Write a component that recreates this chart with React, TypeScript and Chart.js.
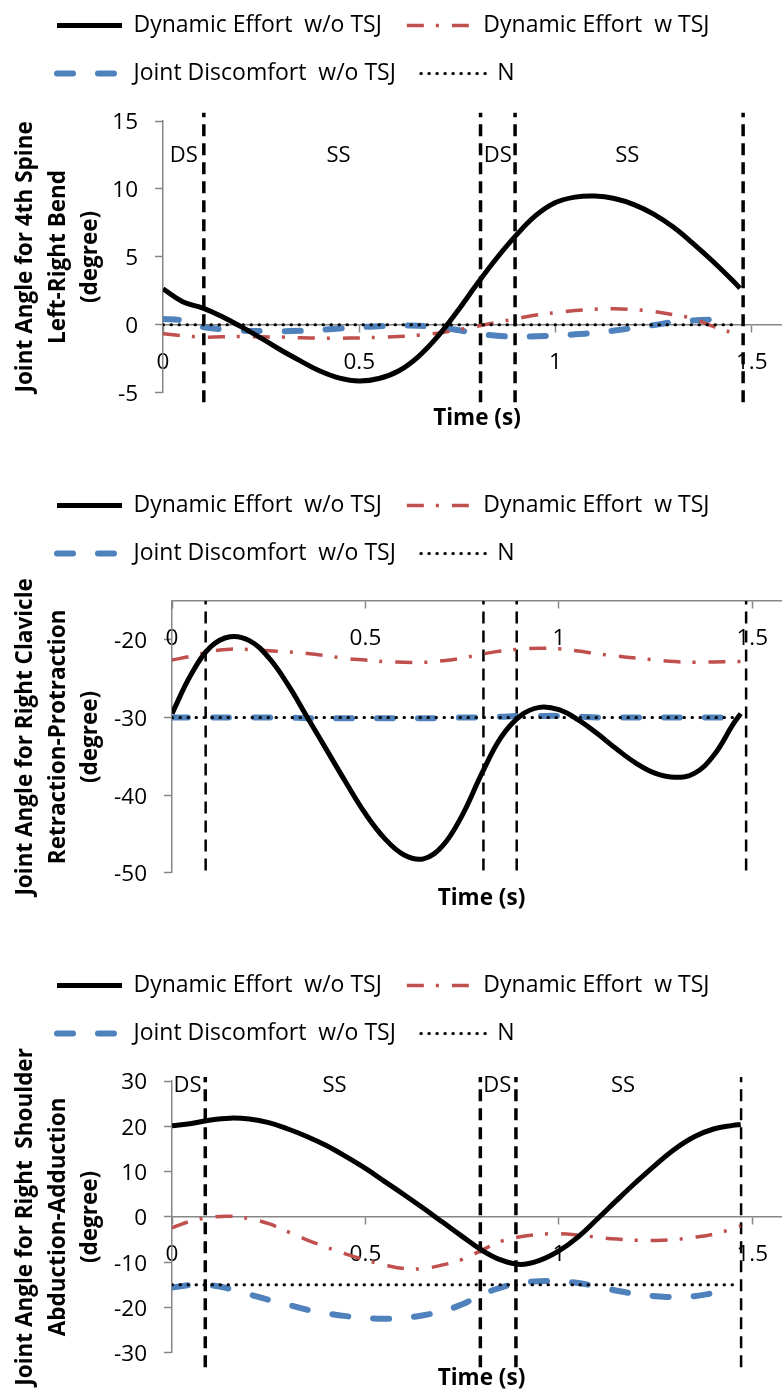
import React, { useEffect, useRef } from 'react';
import { Chart, registerables } from 'chart.js';

Chart.register(...registerables);

const FONT = "'Open Sans'";

// ---------- shared data ----------
const times = [0, 0.05, 0.1, 0.15, 0.2, 0.25, 0.3, 0.35, 0.4, 0.45, 0.5, 0.55, 0.6, 0.65, 0.7, 0.75, 0.8, 0.85, 0.9, 0.95, 1.0, 1.05, 1.1, 1.15, 1.2, 1.25, 1.3, 1.35, 1.4, 1.45, 1.47];
const nTimes = [0, 1.45];
const seriesLabels = ['Dynamic Effort  w/o TSJ', 'Dynamic Effort  w TSJ', 'Joint Discomfort  w/o TSJ', 'N'];
const xTickValues = [0, 0.5, 1, 1.5];
const phaseLabelTexts = ['DS', 'SS', 'DS', 'SS'];

// ---------- chart 1: 4th spine left-right bend ----------
const spineEffortNoTsj = [2.65, 1.7, 1.25, 0.62, -0.15, -0.98, -1.85, -2.65, -3.4, -3.92, -4.13, -3.95, -3.4, -2.35, -0.85, 1.0, 3.0, 4.9, 6.6, 8.05, 9.0, 9.4, 9.48, 9.3, 8.85, 8.15, 7.2, 6.0, 4.7, 3.3, 2.7];
const spineEffortTsj = [-0.66, -0.8, -0.9, -0.88, -0.86, -0.88, -0.9, -0.95, -0.98, -0.98, -0.96, -0.92, -0.86, -0.76, -0.61, -0.38, -0.1, 0.18, 0.45, 0.72, 0.9, 1.05, 1.15, 1.18, 1.12, 0.98, 0.75, 0.45, -0.1, -0.6, -0.9];
const spineDiscomfort = [0.44, 0.32, -0.15, -0.32, -0.42, -0.45, -0.47, -0.44, -0.37, -0.27, -0.17, -0.1, -0.05, -0.07, -0.17, -0.38, -0.64, -0.8, -0.86, -0.84, -0.78, -0.7, -0.59, -0.42, -0.22, -0.02, 0.2, 0.32, 0.39, 0.42, null];
const spineN = [0, 0];
const spineYTicks = [-5, 0, 5, 10, 15];
const spinePhaseTimes = [0.104, 0.809, 0.897, 1.478];
const spinePhaseRange = [-5.7, 15.6];
const spinePhaseLabelX = [0.053, 0.447, 0.853, 1.183];
const spinePhaseLabelY = 12.43;

// ---------- chart 2: right clavicle retraction-protraction ----------
const clavicleEffortNoTsj = [-29.5, -24.4, -20.9, -19.6, -20.1, -22.3, -25.8, -30.0, -34.2, -38.4, -42.4, -45.6, -47.7, -48.2, -46.5, -42.6, -37.3, -32.6, -29.8, -28.7, -29.0, -30.3, -32.1, -34.1, -35.9, -37.2, -37.7, -37.2, -34.9, -30.9, -29.5];
const clavicleEffortTsj = [-22.6, -22.1, -21.5, -21.2, -21.25, -21.4, -21.55, -21.75, -22.05, -22.4, -22.6, -22.8, -22.9, -22.9, -22.7, -22.35, -21.85, -21.45, -21.2, -21.1, -21.15, -21.45, -21.8, -22.1, -22.35, -22.6, -22.8, -22.9, -22.85, -22.8, -22.8];
const clavicleDiscomfort = [-30, -30, -30, -30, -30, -30, -30, -30.1, -30.1, -30.1, -30.1, -30.1, -30.1, -30.1, -30.1, -30, -30, -29.9, -29.8, -29.8, -29.8, -29.9, -30, -30, -30, -30, -30, -30, -30, -30, null];
const clavicleN = [-30, -30];
const clavicleYTicks = [-50, -40, -30, -20];
const claviclePhaseTimes = [0.087, 0.805, 0.891, 1.484];
const claviclePhaseRange = [-49.7, -15];

// ---------- chart 3: right shoulder abduction-adduction ----------
const shoulderEffortNoTsj = [20.1, 20.6, 21.4, 21.8, 21.6, 20.8, 19.4, 17.7, 15.7, 13.3, 10.7, 7.8, 4.9, 1.9, -1.2, -4.3, -7.3, -9.5, -10.5, -9.6, -7.5, -4.4, -0.4, 3.7, 7.7, 11.5, 15.0, 17.7, 19.4, 20.2, 20.4];
const shoulderEffortTsj = [-2.4, -0.9, -0.1, 0.15, -0.4, -1.5, -3.3, -5.1, -6.7, -8.2, -9.5, -10.6, -11.4, -11.4, -10.6, -9.4, -7.4, -5.4, -4.4, -3.85, -3.7, -4.0, -4.5, -4.9, -5.15, -5.2, -5.0, -4.5, -3.8, -2.6, -2.0];
const shoulderDiscomfort = [-15.6, -15.05, -15.1, -15.9, -17.1, -18.3, -19.4, -20.5, -21.3, -21.9, -22.3, -22.5, -22.3, -21.7, -20.8, -19.3, -17.2, -15.6, -14.6, -14.2, -14.2, -14.6, -15.4, -16.3, -17.0, -17.5, -17.7, -17.5, -16.8, -16.0, null];
const shoulderN = [-15, -15];
const shoulderYTicks = [-30, -20, -10, 0, 10, 20, 30];
const shoulderPhaseTimes = [0.086, 0.797, 0.889, 1.471];
const shoulderPhaseRange = [-33.2, 30.9];
const shoulderPhaseLabelX = [0.040, 0.42, 0.841, 1.166];
const shoulderPhaseLabelY = 29.0;

type Spec = {
  top: number;
  yTitle: string[];
  yMin: number;
  yMax: number;
  yTicks: number[];
  xAxisAt: number;
  yWidth: number;
  black: (number | null)[];
  red: (number | null)[];
  blue: (number | null)[];
  n: number[];
  phaseTimes: number[];
  phaseRange: number[];
  phaseWidths: number[];
  labelX?: number[];
  labelY?: number;
};

const PAD_LEFT = 32;

const specs: Spec[] = [
  {
    top: -13,
    yTitle: ['Joint Angle for 4th Spine', 'Left-Right Bend', '(degree)'],
    yMin: -5, yMax: 15, yTicks: spineYTicks, xAxisAt: 0, yWidth: 163 - PAD_LEFT,
    black: spineEffortNoTsj, red: spineEffortTsj, blue: spineDiscomfort, n: spineN,
    phaseTimes: spinePhaseTimes, phaseRange: spinePhaseRange, phaseWidths: [3.5, 3.5, 3.5, 3.5],
    labelX: spinePhaseLabelX, labelY: spinePhaseLabelY,
  },
  {
    top: 467,
    yTitle: ['Joint Angle for Right Clavicle', 'Retraction-Protraction', '(degree)'],
    yMin: -50, yMax: -15, yTicks: clavicleYTicks, xAxisAt: -15, yWidth: 172 - PAD_LEFT,
    black: clavicleEffortNoTsj, red: clavicleEffortTsj, blue: clavicleDiscomfort, n: clavicleN,
    phaseTimes: claviclePhaseTimes, phaseRange: claviclePhaseRange, phaseWidths: [2.5, 2.5, 2.5, 2.5],
  },
  {
    top: 947,
    yTitle: ['Joint Angle for Right  Shoulder', 'Abduction-Adduction', '(degree)'],
    yMin: -30, yMax: 30, yTicks: shoulderYTicks, xAxisAt: 0, yWidth: 172 - PAD_LEFT,
    black: shoulderEffortNoTsj, red: shoulderEffortTsj, blue: shoulderDiscomfort, n: shoulderN,
    phaseTimes: shoulderPhaseTimes, phaseRange: shoulderPhaseRange, phaseWidths: [3.5, 3.5, 3.5, 2.5],
    labelX: shoulderPhaseLabelX, labelY: shoulderPhaseLabelY,
  },
];

const CW = 791;
const CH = 493;
const AXIS_GRAY = '#868686';

function JointChart({ spec }: { spec: Spec }) {
  const ref = useRef<HTMLCanvasElement>(null);

  useEffect(() => {
    if (!ref.current) return;
    const pts = (xs: number[], ys: (number | null)[]) => xs.map((x, i) => ({ x, y: ys[i] }));

    const labelPlugin = {
      id: 'phaseLabels',
      afterDatasetsDraw(chart: any) {
        if (!spec.labelX) return;
        const { ctx } = chart;
        const xs = chart.scales.x;
        const ys = chart.scales.y;
        ctx.save();
        ctx.font = `22px ${FONT}`;
        ctx.fillStyle = '#000';
        ctx.textAlign = 'center';
        ctx.textBaseline = 'middle';
        spec.labelX.forEach((lx, i) => {
          ctx.fillText(phaseLabelTexts[i], xs.getPixelForValue(lx), ys.getPixelForValue(spec.labelY as number));
        });
        ctx.restore();
      },
    };

    const common = {
      xAxisID: 'x',
      yAxisID: 'y',
      pointRadius: 0,
      pointHoverRadius: 0,
      fill: false,
      spanGaps: false,
      cubicInterpolationMode: 'default',
      tension: 0.4,
    };

    const datasets: any[] = [
      { ...common, label: seriesLabels[0], data: pts(times, spec.black), borderColor: '#000000', borderWidth: 5, borderDash: [], borderCapStyle: 'butt', order: 0 },
      { ...common, label: seriesLabels[1], data: pts(times, spec.red), borderColor: '#C0504D', borderWidth: 3.5, borderDash: [17, 12, 3, 13], borderCapStyle: 'butt', order: 2 },
      { ...common, label: seriesLabels[2], data: pts(times, spec.blue), borderColor: '#4F81BD', borderWidth: 6, borderDash: [16, 25], borderCapStyle: 'round', order: 3 },
      { ...common, tension: 0, label: seriesLabels[3], data: pts(nTimes, spec.n), borderColor: '#000000', borderWidth: 3, borderDash: [0.5, 7.5], borderCapStyle: 'round', order: 1 },
      ...spec.phaseTimes.map((t, i) => ({
        ...common,
        tension: 0,
        label: 'phase',
        data: [{ x: t, y: spec.phaseRange[0] }, { x: t, y: spec.phaseRange[1] }],
        borderColor: '#000000',
        borderWidth: spec.phaseWidths[i],
        borderDash: [12, 7],
        clip: false,
        order: 4,
      })),
    ];

    const chart = new Chart(ref.current, {
      type: 'line',
      data: { datasets },
      plugins: [labelPlugin as any],
      options: {
        responsive: false,
        animation: false,
        events: [],
        layout: { padding: { left: PAD_LEFT, right: 0, top: 2, bottom: 0 } },
        plugins: {
          tooltip: { enabled: false },
          legend: {
            display: true,
            position: 'top',
            align: 'start',
            labels: {
              usePointStyle: true,
              pointStyleWidth: 65,
              padding: 25,
              color: '#000',
              font: { family: FONT, size: 23 },
              generateLabels: (c: any) =>
                c.data.datasets.slice(0, 4).map((ds: any, i: number) => ({
                  text: ds.label,
                  fillStyle: 'rgba(0,0,0,0)',
                  strokeStyle: ds.borderColor,
                  lineWidth: ds.borderWidth,
                  lineDash: ds.borderDash,
                  lineCap: ds.borderCapStyle,
                  pointStyle: 'line',
                  fontColor: '#000',
                  hidden: false,
                  datasetIndex: i,
                })),
            },
          },
        },
        scales: {
          x: {
            type: 'linear',
            position: { y: spec.xAxisAt },
            min: 0,
            max: 1.6,
            afterFit: (s: any) => { s.height = 0; },
            afterBuildTicks: (s: any) => { s.ticks = xTickValues.map((v) => ({ value: v })); },
            ticks: {
              font: { family: FONT, size: 22.5 },
              color: '#000',
              padding: 17,
              maxRotation: 0,
              autoSkip: false,
              callback: (v: any) => String(v),
            },
            grid: { display: true, drawOnChartArea: false, drawTicks: true, tickLength: 7, tickColor: AXIS_GRAY, tickWidth: 1.5 },
            border: { display: true, color: AXIS_GRAY, width: 1.5 },
          },
          y: {
            type: 'linear',
            position: 'left',
            min: spec.yMin,
            max: spec.yMax,
            afterBuildTicks: (s: any) => { s.ticks = spec.yTicks.map((v) => ({ value: v })); },
            afterFit: (s: any) => { s.width = spec.yWidth; },
            ticks: {
              font: { family: FONT, size: 22.5 },
              color: '#000',
              padding: 17,
              labelOffset: 2,
              callback: (v: any) => String(v),
            },
            grid: { display: true, drawOnChartArea: false, drawTicks: true, tickLength: 8, tickColor: AXIS_GRAY, tickWidth: 1.5 },
            border: { display: true, color: AXIS_GRAY, width: 1.5 },
            title: {
              display: true,
              text: spec.yTitle,
              color: '#000',
              font: { family: FONT, size: 22.5, weight: 'bold', lineHeight: 1.45 },
              padding: { top: -22.8, bottom: 0 },
            },
          },
          xTop: {
            type: 'linear',
            position: 'top',
            display: true,
            ticks: { display: false },
            grid: { display: false },
            border: { display: false },
            afterFit: (s: any) => { s.height = 26; },
          },
          xTitle: {
            type: 'linear',
            position: 'bottom',
            display: true,
            ticks: { display: false },
            grid: { display: false },
            border: { display: false },
            title: {
              display: true,
              text: 'Time (s)',
              color: '#000',
              font: { family: FONT, size: 22.5, weight: 'bold' },
              padding: { top: 0, bottom: 48 },
            },
            afterFit: (s: any) => { s.height = 87.2; },
          },
        } as any,
      } as any,
    });

    return () => chart.destroy();
  }, [spec]);

  return (
    <canvas
      ref={ref}
      width={CW}
      height={CH}
      style={{ position: 'absolute', left: 0, top: spec.top, width: CW, height: CH }}
    />
  );
}

export default function App() {
  return (
    <div
      style={{
        position: 'absolute',
        left: 0,
        top: 0,
        width: 782,
        height: 1391,
        overflow: 'hidden',
        background: '#ffffff',
      }}
    >
      {specs.map((s, i) => (
        <JointChart key={i} spec={s} />
      ))}
    </div>
  );
}
